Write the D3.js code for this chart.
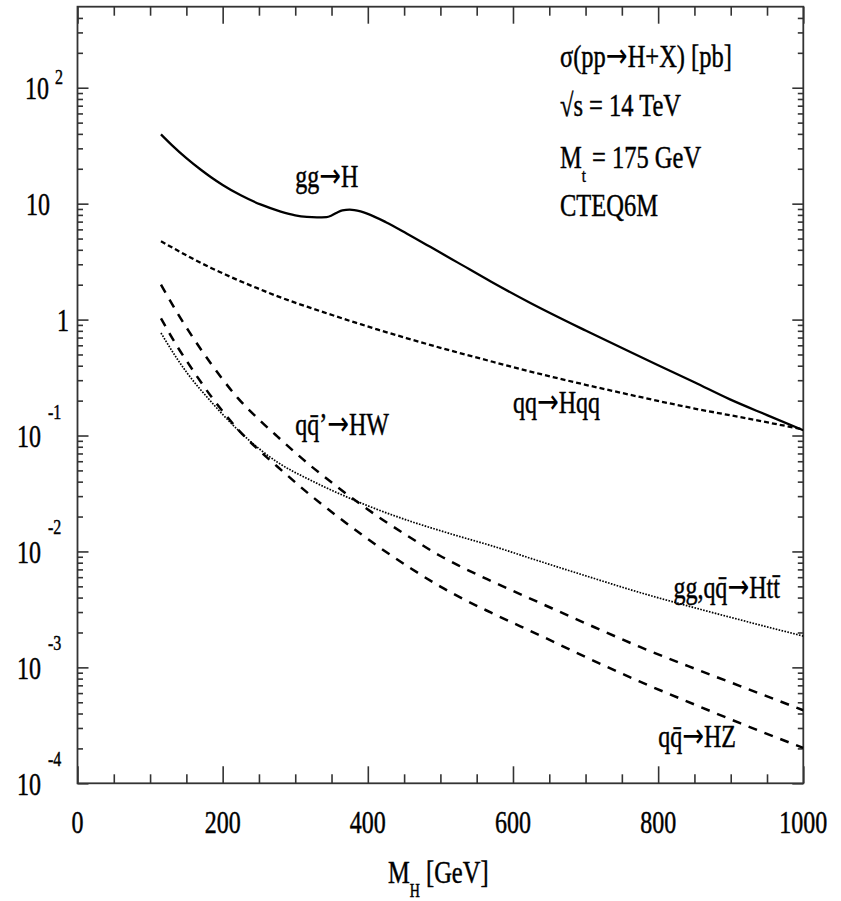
<!DOCTYPE html>
<html>
<head>
<meta charset="utf-8">
<script src="https://cdn.jsdelivr.net/npm/d3@7"></script>
<style>
  html, body { margin: 0; padding: 0; background: #fff; }
  svg text { font-family: "Liberation Serif", "Times New Roman", serif; fill: #000; stroke: #000; stroke-width: 0.35px; }
</style>
</head>
<body>
<svg id="chart" width="841" height="901"></svg>
<script>
// ---------------- data ----------------
const massGG = [115,130,150,170,184,200,225,253,280,300,316,330,343,350,358,365,375,390,400,425,454,486,524,570,624,700,761,800,850,899,950,1000];
const sigmaGG = [39.6,32.0,24.7,19.6,16.9,14.5,11.8,9.8,8.55,7.94,7.69,7.62,7.66,7.9,8.4,8.75,8.89,8.57,8.17,6.92,5.51,4.24,3.10,2.12,1.39,0.804,0.527,0.404,0.288,0.205,0.150,0.111];

const massGrid = [115,138,152,184,200,221,253,276,322,345,370,391,414,460,500,524,570,637,700,775,850,913,1000];
const sigmaHqq = [4.74,3.94,3.53,2.79,2.51,2.19,1.81,1.585,1.256,1.125,0.999,0.908,0.818,0.673,0.571,0.520,0.436,0.340,0.274,0.215,0.171,0.144,0.113];
const sigmaHW  = [2.0,1.13,0.818,0.416,0.305,0.210,0.132,0.0973,0.0543,0.0417,0.0316,0.0253,0.0200,0.0130,0.00914,0.00762,0.00555,0.00360,0.00240,0.00150,0.000977,0.000690,0.000427];
const sigmaHZ  = [1.026,0.579,0.425,0.218,0.162,0.113,0.0718,0.0535,0.0302,0.0232,0.0176,0.01406,0.01107,0.0071,0.00497,0.00411,0.00296,0.00189,0.00123,0.000753,0.000479,0.000330,0.000202];
const sigmaHtt = [0.767,0.452,0.340,0.196,0.152,0.1117,0.0745,0.0586,0.0409,0.0349,0.0297,0.0261,0.0229,0.0181,0.0151,0.0136,0.01122,0.00822,0.00617,0.00442,0.00327,0.00257,0.00186];

const xMajorTicks = [0,200,400,600,800,1000];
const xMinorTicks = [50,100,150,250,300,350,450,500,550,650,700,750,850,900,950];
const yExponents = [2,1,0,-1,-2,-3,-4];

const infoLines = ["σ(pp→H+X) [pb]", "√s = 14 TeV", "M|t| = 175 GeV", "CTEQ6M"];
const curveLabels = [
  {text: "gg→H", m: 300, v: 14.0},
  {text: "qq\u0304’→HW", m: 300, v: 0.101},
  {text: "qq→Hqq", m: 600, v: 0.157},
  {text: "gg,qq\u0304→Htt\u0304", m: 821, v: 0.0040},
  {text: "qq\u0304→HZ", m: 800, v: 0.000206}
];

// ---------------- layout ----------------
const L = 77.5, R = 803.3, T = 6.7, B = 783.3;
const SY = 1.3;   // vertical stretch of glyphs in the reference
const svg = d3.select("#chart");

const x = d3.scaleLinear().domain([0, 1000]).range([L, R]);
const y = d3.scaleLog().domain([1e-4, 500]).range([B, T]);

const yMinor = [];
for (let e = -4; e <= 2; e++) {
  for (let k = 2; k <= 9; k++) {
    const v = k * Math.pow(10, e);
    if (v < 500) yMinor.push(v);
  }
}
const yMajor = yExponents.map(e => Math.pow(10, e));

const axisColor = "#333";
function styleAxis(g) {
  g.select(".domain").remove();
  g.selectAll(".tick line").attr("stroke", axisColor).attr("stroke-width", 1.6);
  g.selectAll(".tick text").remove();
}

svg.append("g").attr("transform", `translate(0,${B})`)
  .call(d3.axisBottom(x).tickValues(xMajorTicks).tickSize(-17).tickFormat("")).call(styleAxis);
svg.append("g").attr("transform", `translate(0,${B})`)
  .call(d3.axisBottom(x).tickValues(xMinorTicks).tickSize(-9).tickFormat("")).call(styleAxis);
svg.append("g").attr("transform", `translate(0,${T})`)
  .call(d3.axisTop(x).tickValues(xMajorTicks).tickSize(-17).tickFormat("")).call(styleAxis);
svg.append("g").attr("transform", `translate(0,${T})`)
  .call(d3.axisTop(x).tickValues(xMinorTicks).tickSize(-9).tickFormat("")).call(styleAxis);
svg.append("g").attr("transform", `translate(${L},0)`)
  .call(d3.axisLeft(y).tickValues(yMajor).tickSize(-11).tickFormat("")).call(styleAxis);
svg.append("g").attr("transform", `translate(${L},0)`)
  .call(d3.axisLeft(y).tickValues(yMinor).tickSize(-5.5).tickFormat("")).call(styleAxis);
svg.append("g").attr("transform", `translate(${R},0)`)
  .call(d3.axisRight(y).tickValues(yMajor).tickSize(-11).tickFormat("")).call(styleAxis);
svg.append("g").attr("transform", `translate(${R},0)`)
  .call(d3.axisRight(y).tickValues(yMinor).tickSize(-5.5).tickFormat("")).call(styleAxis);

svg.append("rect").attr("x", L).attr("y", T).attr("width", R - L).attr("height", B - T)
  .attr("fill", "none").attr("stroke", axisColor).attr("stroke-width", 1.8);

function stretchedText(px, py, size, anchor) {
  return svg.append("text")
    .attr("transform", `translate(${px},${py}) scale(1,${SY})`)
    .attr("font-size", size)
    .attr("text-anchor", anchor || "start");
}
// write a string, rendering arrows with a wider glyph
function writeRich(t, s) {
  s.split("→").forEach((piece, i) => {
    if (i > 0) t.append("tspan").attr("font-family", "DejaVu Sans").attr("font-size", 26)
      .attr("stroke-width", 0).text("→");
    if (piece) t.append("tspan").text(piece);
  });
}

xMajorTicks.forEach(v => {
  stretchedText(x(v), 833, 24, "middle").text(v);
});

yExponents.forEach(e => {
  const ty = y(Math.pow(10, e));
  if (e === 1) {
    stretchedText(26, ty + 11, 24).text("10");
  } else if (e === 0) {
    stretchedText(63, ty + 11, 24, "middle").text("1");
  } else {
    const baseX = e > 0 ? 25 : 17;
    stretchedText(baseX, ty + 11.5, 24).text("10");
    stretchedText(e > 0 ? 55 : 48, e > 0 ? ty - 3.5 : ty - 17, 16).text(e > 0 ? String(e) : "-" + Math.abs(e));
  }
});

{
  const t = stretchedText(388, 883, 24.5);
  t.append("tspan").text("M");
  t.append("tspan").attr("font-size", 14).attr("dy", 10.5).text("H");
  t.append("tspan").attr("dy", -10.5).text(" [GeV]");
}

infoLines.forEach((s, i) => {
  const t = stretchedText(560, [67, 116, 168, 216][i], 24.5);
  const parts = s.split("|");
  if (parts.length === 3) {
    t.append("tspan").text(parts[0]);
    t.append("tspan").attr("font-size", 15).attr("dy", 11).text(parts[1]);
    t.append("tspan").attr("dy", -11).text(parts[2]);
  } else {
    writeRich(t, s);
  }
});

const line = d3.line().x(d => x(d[0])).y(d => y(d[1])).curve(d3.curveMonotoneX);
const series = [
  {m: massGG,   v: sigmaGG,  dash: null,      w: 2.3},
  {m: massGrid, v: sigmaHqq, dash: "5,3",     w: 2.3},
  {m: massGrid, v: sigmaHW,  dash: "9,8",     w: 2.5},
  {m: massGrid, v: sigmaHZ,  dash: "9,8",     w: 2.5},
  {m: massGrid, v: sigmaHtt, dash: "1.6,1.4", w: 1.7}
];
svg.append("clipPath").attr("id", "plotclip")
  .append("rect").attr("x", L).attr("y", T).attr("width", R - L).attr("height", B - T);
const gCurves = svg.append("g").attr("clip-path", "url(#plotclip)");
series.forEach(s => {
  gCurves.append("path")
    .attr("d", line(s.m.map((m, i) => [m, s.v[i]])))
    .attr("fill", "none").attr("stroke", "#000")
    .attr("stroke-width", s.w)
    .attr("stroke-dasharray", s.dash);
});

curveLabels.forEach(c => {
  writeRich(stretchedText(x(c.m), y(c.v), 24), c.text);
});
</script>
</body>
</html>
